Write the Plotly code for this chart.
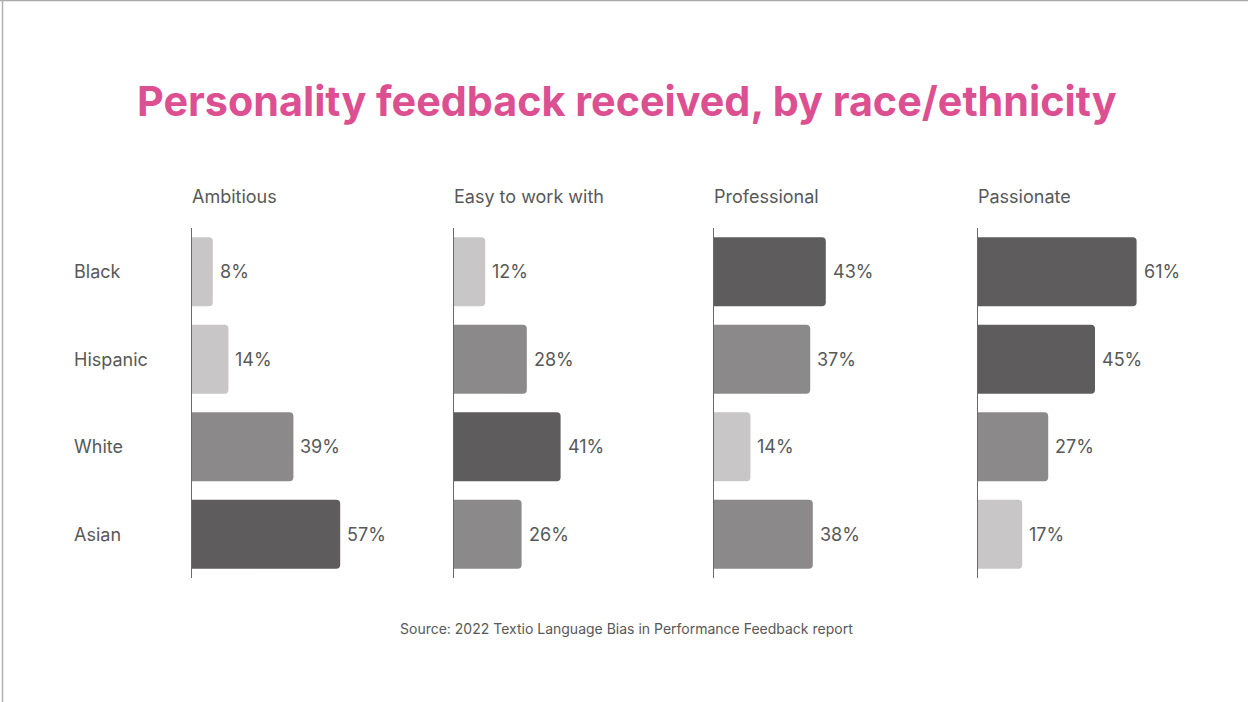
import plotly.graph_objects as go

# Data
groups = ["Black", "Hispanic", "White", "Asian"]
traits = ["Ambitious", "Easy to work with", "Professional", "Passionate"]
ambitious = [8, 14, 39, 57]
easy_to_work_with = [12, 28, 41, 26]
professional = [43, 37, 14, 38]
passionate = [61, 45, 27, 17]
series = [ambitious, easy_to_work_with, professional, passionate]

# Styling
W, H = 1248, 702
TOP, BOTTOM = 228, 578
panel_left_px = [192, 454, 714, 978]
panel_width_px = 234
x_max = 90
DARK, MID, LIGHT = "#5e5c5d", "#8b898a", "#c8c6c7"
TEXT = "#585858"
PINK = "#dc4f91"
FONT = "Inter"


def shade(v):
    if v >= 40:
        return DARK
    if v >= 20:
        return MID
    return LIGHT


def py(pixel_y):
    """Convert a pixel row to paper y (plot area spans TOP..BOTTOM)."""
    return (BOTTOM - pixel_y) / (BOTTOM - TOP)


fig = go.Figure()
annotations = []

for i, (trait, values) in enumerate(zip(traits, series)):
    n = "" if i == 0 else str(i + 1)
    xa, ya = "x" + n, "y" + n
    fig.add_trace(go.Bar(
        x=values, y=groups, orientation="h",
        marker=dict(color=[shade(v) for v in values], line=dict(width=0)),
        width=0.79, xaxis=xa, yaxis=ya, hoverinfo="skip",
    ))
    d0 = panel_left_px[i] / W
    d1 = (panel_left_px[i] + panel_width_px) / W
    fig.update_layout(**{
        "xaxis" + n: dict(domain=[d0, d1], range=[0, x_max], visible=False,
                          fixedrange=True),
        "yaxis" + n: dict(anchor=xa, domain=[0, 1], range=[3.5, -0.5],
                          showline=True, linecolor="#6a6a6a", linewidth=1,
                          showticklabels=False, ticks="", showgrid=False,
                          zeroline=False, fixedrange=True),
    })
    # panel header
    annotations.append(dict(
        text=trait, xref="paper", yref="paper", x=d0 - 2 / W, y=py(196),
        xanchor="left", yanchor="middle", showarrow=False,
        font=dict(family=FONT, size=18, color=TEXT),
    ))
    # value labels
    for g, v in zip(groups, values):
        annotations.append(dict(
            text=f"{v}%", xref=xa, yref=ya, x=v, y=g, xanchor="left",
            yanchor="middle", xshift=5, showarrow=False,
            font=dict(family=FONT, size=18, color=TEXT),
        ))

# row labels
for g in groups:
    annotations.append(dict(
        text=g, xref="paper", yref="y", x=71.5 / W, y=g, xanchor="left",
        yanchor="middle", showarrow=False,
        font=dict(family=FONT, size=18, color=TEXT),
    ))

# title and source
annotations.append(dict(
    text="<b>Personality feedback received, by race/ethnicity</b>",
    xref="paper", yref="paper", x=626.5 / W, y=py(101), xanchor="center",
    yanchor="middle", showarrow=False,
    font=dict(family=FONT, size=41.3, color=PINK),
))
annotations.append(dict(
    text="Source: 2022 Textio Language Bias in Performance Feedback report",
    xref="paper", yref="paper", x=626 / W, y=py(628), xanchor="center",
    yanchor="middle", showarrow=False,
    font=dict(family=FONT, size=14, color=TEXT),
))

# frame lines along the top and left edges
shapes = [
    dict(type="line", xref="paper", yref="paper", x0=0, x1=1,
         y0=py(0.5), y1=py(0.5), line=dict(color="#aaaaaa", width=1.5)),
    dict(type="line", xref="paper", yref="paper", x0=2.5 / W, x1=2.5 / W,
         y0=py(0), y1=py(H), line=dict(color="#b0b0b0", width=1.5)),
]

fig.update_layout(
    width=W, height=H,
    margin=dict(l=0, r=0, t=TOP, b=H - BOTTOM, pad=0),
    paper_bgcolor="white", plot_bgcolor="white",
    showlegend=False, barcornerradius=4,
    annotations=annotations, shapes=shapes,
)

fig.write_html("out.html", config={"displayModeBar": False})
